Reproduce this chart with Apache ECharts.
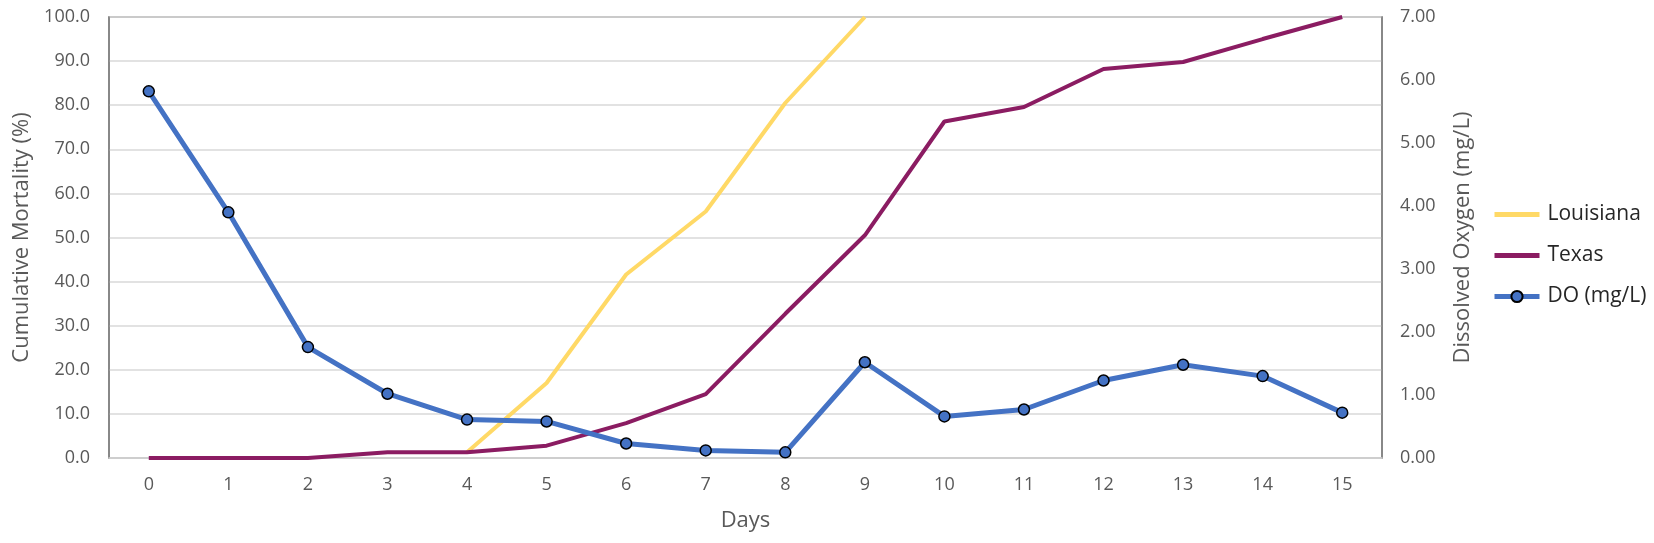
<!DOCTYPE html>
<html>
<head>
<meta charset="utf-8">
<script src="https://cdn.jsdelivr.net/npm/echarts@6/dist/echarts.min.js"></script>
<style>
html,body{margin:0;padding:0;background:#fff;}
#chart{width:1654px;height:543px;}
</style>
</head>
<body>
<div id="chart"></div>
<script>
const days = ['0','1','2','3','4','5','6','7','8','9','10','11','12','13','14','15'];
const louisiana = [null,null,null,null,1.3,17.0,41.6,55.9,80.5,100,null,null,null,null,null,null];
const texas = [0,0,0,1.3,1.3,2.8,7.9,14.5,32.7,50.5,76.3,79.6,88.2,89.8,95.0,100];
const dissolvedO2 = [5.82,3.90,1.76,1.02,0.61,0.58,0.23,0.12,0.09,1.52,0.66,0.77,1.23,1.48,1.30,0.72];

const FONT = 'Open Sans';
const TXT = '#595959';
const chart = echarts.init(document.getElementById('chart'));
chart.setOption({
  animation: false,
  backgroundColor: '#fff',
  textStyle: { fontFamily: FONT },
  grid: { left: 109, right: 272, top: 17, bottom: 85, show: true, borderColor: '#808080', borderWidth: 1.5 },
  legend: {
    orient: 'vertical', left: 1487, top: 199, itemWidth: 45, itemHeight: 14, itemGap: 20,
    textStyle: { fontFamily: FONT, fontSize: 21, color: '#262626', padding: [0, 0, 0, 3] },
    data: [
      { name: 'Louisiana', itemStyle: { opacity: 0 }, lineStyle: { width: 5 } },
      { name: 'Texas', itemStyle: { opacity: 0 }, lineStyle: { width: 5 } },
      { name: 'DO (mg/L)', lineStyle: { width: 5 } }
    ]
  },
  xAxis: {
    type: 'category', data: days, boundaryGap: true,
    name: 'Days', nameLocation: 'middle', nameGap: 52,
    nameTextStyle: { fontFamily: FONT, fontSize: 22, color: TXT },
    axisLine: { show: true, lineStyle: { color: '#d0d0d0', width: 1.5 } },
    axisTick: { show: false },
    axisLabel: { fontFamily: FONT, fontSize: 18, color: TXT, margin: 18 },
    splitLine: { show: false }
  },
  yAxis: [
    {
      type: 'value', min: 0, max: 100, interval: 10, position: 'left',
      name: 'Cumulative Mortality (%)', nameLocation: 'middle', nameGap: 75,
      nameTextStyle: { fontFamily: FONT, fontSize: 22, color: TXT },
      axisLine: { show: true, lineStyle: { color: '#808080', width: 1.5 } },
      axisTick: { show: false },
      axisLabel: { fontFamily: FONT, fontSize: 18, color: TXT, margin: 19, formatter: v => v.toFixed(1) },
      splitLine: { show: true, lineStyle: { color: '#d9d9d9', width: 1.5 } }
    },
    {
      type: 'value', min: 0, max: 7, interval: 1, position: 'right',
      name: 'Dissolved Oxygen (mg/L)', nameLocation: 'middle', nameGap: 70,
      nameTextStyle: { fontFamily: FONT, fontSize: 22, color: TXT },
      axisLine: { show: true, lineStyle: { color: '#808080', width: 1.5 } },
      axisTick: { show: false },
      axisLabel: { fontFamily: FONT, fontSize: 18, color: TXT, margin: 18, formatter: v => v.toFixed(2) },
      splitLine: { show: false }
    }
  ],
  series: [
    {
      name: 'Louisiana', type: 'line', yAxisIndex: 0, data: louisiana,
      symbol: 'none', showSymbol: false, connectNulls: false,
      lineStyle: { color: '#FFD966', width: 4 }, itemStyle: { color: '#FFD966' }, z: 2
    },
    {
      name: 'Texas', type: 'line', yAxisIndex: 0, data: texas,
      symbol: 'none', showSymbol: false,
      lineStyle: { color: '#8B1C62', width: 4 }, itemStyle: { color: '#8B1C62' }, z: 3
    },
    {
      name: 'DO (mg/L)', type: 'line', yAxisIndex: 1, data: dissolvedO2,
      symbol: 'circle', symbolSize: 11,
      lineStyle: { color: '#4472C4', width: 5 },
      itemStyle: { color: '#4472C4', borderColor: '#000', borderWidth: 1.5 }, z: 4
    }
  ]
});
</script>
</body>
</html>
